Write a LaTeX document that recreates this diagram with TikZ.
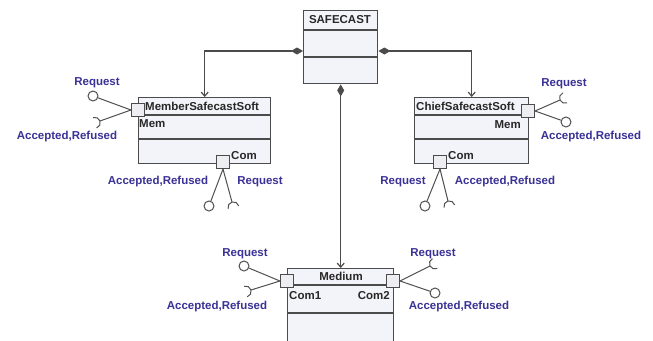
\documentclass[tikz,border=0pt]{standalone}
\usepackage{fontspec}
\setmainfont{Liberation Sans}
\usetikzlibrary{arrows.meta,calc}
\definecolor{bordergray}{RGB}{75,75,75}
\definecolor{boxfill}{RGB}{243,243,250}
\definecolor{portfill}{RGB}{238,238,242}
\definecolor{ifacegray}{RGB}{80,80,80}
\definecolor{labelblue}{RGB}{58,50,150}
\definecolor{boxtext}{RGB}{40,40,40}
\newcommand\mysocket[2]{\draw[iface] (#1) arc[start angle=#2, delta angle=90, radius=5.5] (#1) arc[start angle=#2, delta angle=-90, radius=5.5];}
\begin{document}
\begin{tikzpicture}[x=1pt,y=-1pt,
  cls/.style={draw=bordergray, fill=boxfill, line width=1.4pt, anchor=north west, inner sep=0pt},
  clsline/.style={draw=bordergray, line width=1.4pt},
  port/.style={draw=bordergray, fill=portfill, line width=1.1pt, minimum size=13pt, inner sep=0pt},
  lolli/.style={circle, draw=ifacegray, fill=white, line width=1pt, minimum size=10pt, inner sep=0pt},
  iface/.style={draw=ifacegray, line width=1pt},
  comp/.style={draw=bordergray, line width=1.2pt, {Diamond[length=12pt,width=7pt]}-{Straight Barb[length=4pt,width=7pt]}},
  lbl/.style={text=labelblue, font=\fontsize{11.5}{13}\selectfont\bfseries, inner sep=0pt},
  btxt/.style={text=boxtext, font=\fontsize{11.5}{13}\selectfont\bfseries, inner sep=0pt}
]
\useasboundingbox (0,0) rectangle (653,340);
\clip (0,0) rectangle (653,340);
\fill[white] (0,0) rectangle (653,340);

% class boxes
\node[cls, minimum width=74pt, minimum height=73pt] (safe) at (303,10) {};
\node[cls, minimum width=132pt, minimum height=66pt] (member) at (138,97) {};
\node[cls, minimum width=114pt, minimum height=66pt] (chief) at (414,97) {};
\node[cls, minimum width=106pt, minimum height=90pt] (medium) at (287,268) {};

% compartments
\draw[clsline] ([yshift=-20pt]safe.north west) -- ([yshift=-20pt]safe.north east);
\draw[clsline] ([yshift=-47pt]safe.north west) -- ([yshift=-47pt]safe.north east);
\draw[clsline] ([yshift=-18pt]member.north west) -- ([yshift=-18pt]member.north east);
\draw[clsline] ([yshift=-42pt]member.north west) -- ([yshift=-42pt]member.north east);
\draw[clsline] ([yshift=-18pt]chief.north west) -- ([yshift=-18pt]chief.north east);
\draw[clsline] ([yshift=-42pt]chief.north west) -- ([yshift=-42pt]chief.north east);
\draw[clsline] ([yshift=-17pt]medium.north west) -- ([yshift=-17pt]medium.north east);
\draw[clsline] ([yshift=-45pt]medium.north west) -- ([yshift=-45pt]medium.north east);

% box texts
\node[btxt] (tsafe) at (340,20) {SAFECAST};
\node[btxt, anchor=west] (tmember) at (145,106) {MemberSafecastSoft};
\node[btxt, anchor=west] (tmmem) at (139,124) {Mem};
\node[btxt, anchor=west] (tmcom) at (231,156) {Com};
\node[btxt, anchor=west] (tchief) at (416,106) {ChiefSafecastSoft};
\node[btxt, anchor=east] (tcmem) at (521,125) {Mem};
\node[btxt, anchor=west] (tccom) at (448,156) {Com};
\node[btxt] (tmedium) at (341,276) {Medium};
\node[btxt, anchor=west] (tcom1) at (289,296) {Com1};
\node[btxt, anchor=east] (tcom2) at (390,296) {Com2};

% composition connectors
\draw[comp] ([yshift=-41pt]safe.north west) -| (member.north);
\draw[comp] ([yshift=-41pt]safe.north east) -| (chief.north);
\draw[comp] (safe.south) -- (medium.north);

% ports
\node[port] (pmm) at (138,110) {};
\node[port] (pmc) at (223,162) {};
\node[port] (pcm) at (528,111) {};
\node[port] (pcc) at (440,162) {};
\node[port] (pd1) at (287,281) {};
\node[port] (pd2) at (393,281) {};

% interface ends
\node[lolli] (cmm) at (93,96) {};
\coordinate (smm) at (100,121);
\node[lolli] (cmc) at (209,206) {};
\coordinate (smc) at (232,202);
\node[lolli] (ccm) at (566,122) {};
\coordinate (scm) at (560,100);
\node[lolli] (ccc) at (425,206) {};
\coordinate (scc) at (448,201);
\node[lolli] (cd1) at (244,266) {};
\coordinate (sd1) at (251,290);
\node[lolli] (cd2) at (435,293) {};
\coordinate (sd2) at (430,266);

\draw[iface] (pmm.west) -- (cmm);
\draw[iface] (pmm.west) -- (smm); \mysocket{smm}{-19}
\draw[iface] (pmc.south) -- (cmc);
\draw[iface] (pmc.south) -- (smc); \mysocket{smc}{-105}
\draw[iface] (pcm.east) -- (ccm);
\draw[iface] (pcm.east) -- (scm); \mysocket{scm}{157}
\draw[iface] (pcc.south) -- (ccc);
\draw[iface] (pcc.south) -- (scc); \mysocket{scc}{-104}
\draw[iface] (pd1.west) -- (cd1);
\draw[iface] (pd1.west) -- (sd1); \mysocket{sd1}{-16}
\draw[iface] (pd2.east) -- (cd2);
\draw[iface] (pd2.east) -- (sd2); \mysocket{sd2}{153}

% labels
\node[lbl] (l1) at (97,83) {Request};
\node[lbl] (l2) at (67,137) {Accepted,Refused};
\node[lbl] (l3) at (158,182) {Accepted,Refused};
\node[lbl] (l4) at (260,182) {Request};
\node[lbl] (l5) at (564,84) {Request};
\node[lbl] (l6) at (591,137) {Accepted,Refused};
\node[lbl] (l7) at (403,182) {Request};
\node[lbl] (l8) at (505,182) {Accepted,Refused};
\node[lbl] (l9) at (245,254) {Request};
\node[lbl] (l10) at (217,307) {Accepted,Refused};
\node[lbl] (l11) at (433,254) {Request};
\node[lbl] (l12) at (459,307) {Accepted,Refused};
\end{tikzpicture}
\end{document}
